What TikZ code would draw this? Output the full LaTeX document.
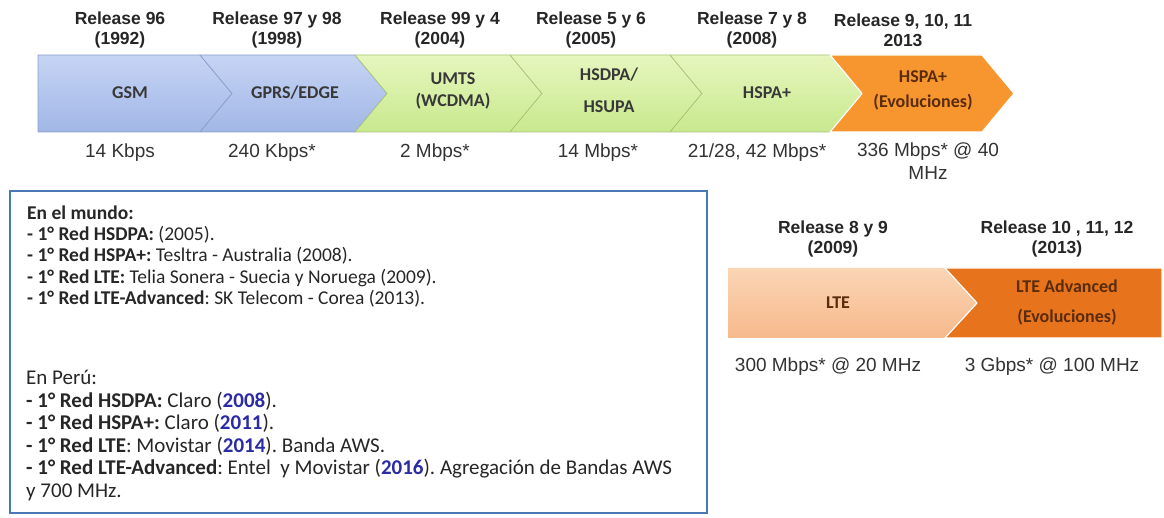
\documentclass[tikz,border=0pt]{standalone}
\usepackage{fontspec}
\setmainfont{Liberation Sans}
\newfontfamily\calib{Carlito}
\usetikzlibrary{positioning}
\frenchspacing

\definecolor{gsmtop}{HTML}{C6D4F4}
\definecolor{gsmbot}{HTML}{A2B7E6}
\definecolor{gsmline}{HTML}{8C9FCB}
\definecolor{umtstop}{HTML}{E6F6BE}
\definecolor{umtsbot}{HTML}{C8E98E}
\definecolor{umtsline}{HTML}{A9C47A}
\definecolor{evoorange}{HTML}{F7962F}
\definecolor{ltetop}{HTML}{FBD5B5}
\definecolor{ltebot}{HTML}{F6B98C}
\definecolor{lteaorange}{HTML}{E8731D}
\definecolor{boxblue}{HTML}{4A78B5}
\definecolor{yearblue}{HTML}{2B2BA6}
\definecolor{evotext}{HTML}{5A2C0C}

\begin{document}
\begin{tikzpicture}[x=1pt,y=1pt,
    rel/.style={font=\bfseries\fontsize{17.5}{20}\selectfont,align=center,text=black!85},
    rate/.style={font=\fontsize{19}{23}\selectfont,align=center,text=black!80},
    tag/.style={font=\calib\bfseries\fontsize{18}{22}\selectfont,align=center,text=black!78},
    note/.style={font=\calib\fontsize{19.5}{21.3}\selectfont,align=left,anchor=north west,
                 inner sep=0pt,text=black!85},
    chev/.style={line width=.7pt,line join=round}]

\useasboundingbox (0,0) rectangle (1164,517);

% fila superior (3G y anteriores)
\path[chev,top color=gsmtop,bottom color=gsmbot,draw=gsmline]
  (38,462) -- (200,462) -- (232,423.5) -- (200,385) -- (38,385) -- cycle;
\path[chev,top color=gsmtop,bottom color=gsmbot,draw=gsmline]
  (200,462) -- (355,462) -- (387,423.5) -- (355,385) -- (200,385) -- (232,423.5) -- cycle;
\path[chev,top color=umtstop,bottom color=umtsbot,draw=umtsline]
  (355,462) -- (510,462) -- (542,423.5) -- (510,385) -- (355,385) -- (387,423.5) -- cycle;
\path[chev,top color=umtstop,bottom color=umtsbot,draw=umtsline]
  (510,462) -- (670,462) -- (702,423.5) -- (670,385) -- (510,385) -- (542,423.5) -- cycle;
\path[chev,top color=umtstop,bottom color=umtsbot,draw=umtsline]
  (670,462) -- (830,462) -- (862,423.5) -- (830,385) -- (670,385) -- (702,423.5) -- cycle;
\path[chev,fill=evoorange,draw=white,line width=1.2pt]
  (830,462) -- (982,462) -- (1014,423.5) -- (982,385) -- (830,385) -- (862,423.5) -- cycle;

% fila inferior (LTE)
\path[chev,top color=ltetop,bottom color=ltebot,draw=none]
  (728,249) -- (945,249) -- (977,214) -- (945,179) -- (728,179) -- cycle;
\path[chev,fill=lteaorange,draw=white,line width=1.2pt]
  (945,249) -- (1162,249) -- (1162,179) -- (945,179) -- (977,214) -- cycle;

% releases
\node[rel] (r96)  at (120,487) {Release 96\\(1992)};
\node[rel] (r97)  at (277,487) {Release 97 y 98\\(1998)};
\node[rel] (r99)  at (440,487) {Release 99 y 4\\(2004)};
\node[rel] (r5)   at (591,487) {Release 5 y 6\\(2005)};
\node[rel] (r7)   at (752,487) {Release 7 y 8\\(2008)};
\node[rel] (r9)   at (903,487) {Release 9, 10, 11\\2013};
\node[rel] (r8)   at (833,278) {Release 8 y 9\\(2009)};
\node[rel] (r10)  at (1057,278) {Release 10 , 11, 12\\(2013)};

% tecnologias
\node[tag] (gsm)  at (130,424) {GSM};
\node[tag] (gprs) at (295,424) {GPRS/EDGE};
\node[tag] (umts) at (453,426) {UMTS\\(WCDMA)};
\node[tag] (hsd)  at (609,427) {HSDPA/\\[10pt]HSUPA};
\node[tag] (hspa) at (767,424) {HSPA+};
\node[tag,text=evotext] (evo) at (923,426.5) {HSPA+\\[3pt](Evoluciones)};
\node[tag,text=evotext] (lte) at (838,214) {LTE};
\node[tag,text=evotext] (ltea) at (1067,214) {LTE Advanced\\[8pt](Evoluciones)};

% velocidades
\node[rate] (v1) at (120,364) {14 Kbps};
\node[rate] (v2) at (272,364) {240 Kbps*};
\node[rate] (v3) at (435,364) {2 Mbps*};
\node[rate] (v4) at (598,364) {14 Mbps*};
\node[rate] (v5) at (757,364) {21/28, 42 Mbps*};
\node[rate] (v6) at (928,355.5) {336 Mbps* @ 40\\MHz};
\node[rate] (v7) at (828,150) {300 Mbps* @ 20 MHz};
\node[rate] (v8) at (1052,150) {3 Gbps* @ 100 MHz};

% recuadro de notas
\draw[boxblue,line width=2.5pt] (10,326) rectangle (707,4);

\node[note] (mundo) at (27,311.5) {\textbf{En el mundo:}\\
  \textbf{- 1° Red HSDPA:} (2005).\\
  \textbf{- 1° Red HSPA+:} Tesltra - Australia (2008).\\
  \textbf{- 1° Red LTE:} Telia Sonera - Suecia y Noruega (2009).\\
  \textbf{- 1° Red LTE-Advanced}: SK Telecom - Corea (2013).};

\node[note,font=\calib\fontsize{21}{22.6}\selectfont] (peru) at (26,147) {En Perú:\\
  \textbf{- 1° Red HSDPA:} Claro (\textbf{\color{yearblue}2008}).\\
  \textbf{- 1° Red HSPA+:} Claro (\textbf{\color{yearblue}2011}).\\
  \textbf{- 1° Red LTE}: Movistar (\textbf{\color{yearblue}2014}). Banda AWS.\\
  \textbf{- 1° Red LTE-Advanced}: Entel\ \ y Movistar (\textbf{\color{yearblue}2016}). Agregación de Bandas AWS\\
  y 700 MHz.};

\end{tikzpicture}
\end{document}
